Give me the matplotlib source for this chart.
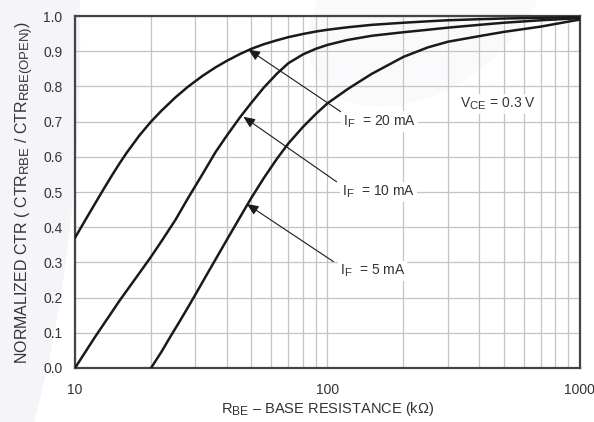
import matplotlib
matplotlib.use("Agg")
import matplotlib.pyplot as plt
import matplotlib._mathtext as mathtext_mod
from matplotlib.patches import Ellipse

plt.rcParams['font.family'] = ['Liberation Sans', 'DejaVu Sans']
plt.rcParams['mathtext.fontset'] = 'custom'
plt.rcParams['mathtext.rm'] = 'Liberation Sans'
# datasheet subscripts are only a little smaller than the main text
mathtext_mod.SHRINK_FACTOR = 0.82

# curves (R in kOhm, normalized CTR)
r_20ma = [10, 11, 12, 13, 14, 15, 16, 18, 20, 22, 25, 28, 32, 36, 40, 45, 50, 56, 63, 70, 80, 90,
          100, 120, 150, 200, 250, 300, 400, 500, 700, 1000]
ctr_20ma = [0.37, 0.421, 0.467, 0.509, 0.547, 0.581, 0.611, 0.661, 0.700, 0.731, 0.769, 0.799,
            0.830, 0.854, 0.873, 0.892, 0.907, 0.920, 0.931, 0.940, 0.949, 0.956, 0.961, 0.968,
            0.975, 0.981, 0.985, 0.988, 0.991, 0.993, 0.995, 0.997]

r_10ma = [10, 11, 12, 13, 14, 15, 16, 18, 20, 22, 25, 28, 32, 36, 40, 45, 50, 56, 63, 70, 80, 90,
          100, 120, 150, 200, 250, 300, 400, 500, 700, 1000]
ctr_10ma = [0.0, 0.046, 0.088, 0.125, 0.159, 0.191, 0.219, 0.270, 0.316, 0.360, 0.421, 0.482,
            0.551, 0.613, 0.661, 0.712, 0.754, 0.797, 0.836, 0.866, 0.891, 0.907, 0.918, 0.932,
            0.944, 0.954, 0.961, 0.967, 0.975, 0.981, 0.988, 0.994]

r_5ma = [20, 22, 24, 26, 28, 30, 33, 36, 40, 45, 50, 56, 63, 70, 80, 90, 100, 120, 130, 150, 200,
         250, 300, 400, 500, 700, 1000]
ctr_5ma = [0.0, 0.046, 0.092, 0.133, 0.172, 0.209, 0.261, 0.308, 0.365, 0.428, 0.484, 0.540,
           0.594, 0.638, 0.685, 0.722, 0.752, 0.792, 0.808, 0.836, 0.884, 0.911, 0.927, 0.943,
           0.955, 0.970, 0.990]

labels = [r'I$_\mathregular{F}$  = 20 mA', r'I$_\mathregular{F}$  = 10 mA', r'I$_\mathregular{F}$  = 5 mA']
arrow_tips = [(48.6, 0.905), (46.4, 0.714), (47.9, 0.466)]
arrow_tails = [(113, 0.728), (108.7, 0.529), (105.7, 0.302)]
label_pos = [(115, 0.70), (114, 0.50), (112, 0.275)]

fig = plt.figure(figsize=(5.94, 4.22), dpi=100)
fig.patch.set_facecolor('white')
# faint lavender swooshes of the datasheet background
fig.add_artist(Ellipse((-0.3, 0.9), 0.87, 3.16, transform=fig.transFigure,
                       facecolor='#f5f4f8', edgecolor='none', zorder=-10))
fig.add_artist(Ellipse((0.72, 1.0), 0.34, 0.55, angle=-30, transform=fig.transFigure,
                       facecolor='#fafafc', edgecolor='none', zorder=-10))

ax = fig.add_axes([0.1263, 0.128, 0.85, 0.834])
ax.patch.set_alpha(0)
ax.set_xscale('log')
ax.set_xlim(10, 1000)
ax.set_ylim(0, 1.0)

ax.set_xticks([10, 100, 1000])
ax.set_xticklabels(['10', '100', '1000'])
ax.set_yticks([i / 10 for i in range(11)])
ax.set_yticklabels([f'{i / 10:.1f}' for i in range(11)])
ax.tick_params(which='both', length=0, labelsize=10, colors='#333333')
ax.tick_params(axis='x', pad=11)
ax.tick_params(axis='y', pad=9)
ax.grid(True, which='both', color='#c4c4c4', lw=0.9)
ax.set_axisbelow(True)
for s in ax.spines.values():
    s.set_color('#444444')
    s.set_linewidth(1.6)

for r, c in [(r_20ma, ctr_20ma), (r_10ma, ctr_10ma), (r_5ma, ctr_5ma)]:
    ax.plot(r, c, color='#1a1a1a', lw=1.8, solid_joinstyle='round', zorder=3)

for lab, tip, tail, pos in zip(labels, arrow_tips, arrow_tails, label_pos):
    ax.annotate('', xy=tip, xytext=tail,
                arrowprops=dict(arrowstyle='-|>,head_length=0.7,head_width=0.3',
                                color='#1a1a1a', lw=0.8, shrinkA=0, shrinkB=0),
                zorder=4)
    ax.text(pos[0], pos[1], lab, ha='left', va='center', fontsize=10, color='#333333',
            bbox=dict(boxstyle='square,pad=0.15', fc='white', ec='none'), zorder=5)

ax.text(334, 0.75, r'V$_\mathregular{CE}$ = 0.3 V', ha='left', va='center', fontsize=10,
        color='#333333', bbox=dict(boxstyle='square,pad=0.15', fc='white', ec='none'), zorder=5)

ax.set_xlabel(r'R$_\mathregular{BE}$ – BASE RESISTANCE (kΩ)', fontsize=10.5, color='#333333',
              labelpad=2)
ax.set_ylabel(r'NORMALIZED CTR ( CTR$_\mathregular{RBE}$ / CTR$_\mathregular{RBE(OPEN)}$)',
              fontsize=11.5, color='#333333', labelpad=5)

fig.savefig('out.png', dpi=100)
